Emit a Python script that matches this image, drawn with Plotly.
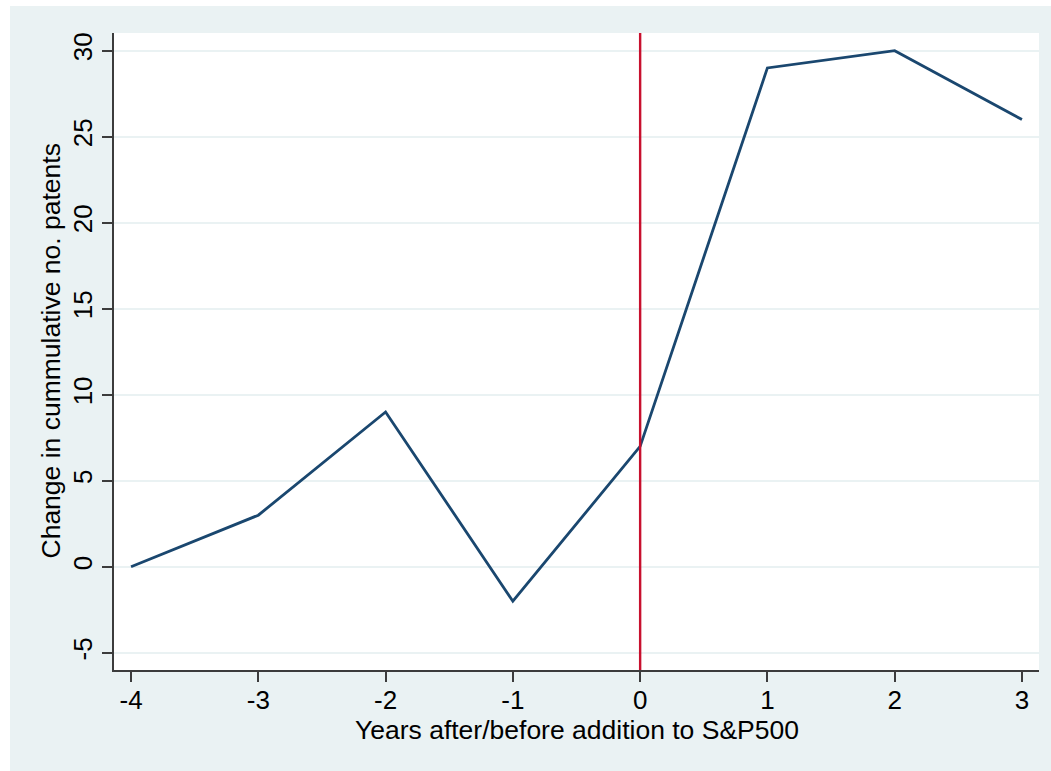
import plotly.graph_objects as go

# Years relative to index addition and change in cumulative patent count
years = [-4, -3, -2, -1, 0, 1, 2, 3]
patent_change = [0, 3, 9, -2, 7, 29, 30, 26]
y_ticks = [-5, 0, 5, 10, 15, 20, 25, 30]
event_year = 0

BG = "#eaf2f3"
AXIS = "#3c3c3c"
FONT = "Liberation Sans, Arial, sans-serif"

# plot-area geometry in pixels
W, H = 1051, 771
L, R, T, B = 114, 12, 33, 101
PW, PH = W - L - R, H - T - B

fig = go.Figure()
fig.add_trace(go.Scatter(
    x=years, y=patent_change, mode="lines",
    line=dict(color="#1a476f", width=2.8),
    showlegend=False, hoverinfo="skip",
))

# event line at addition year
fig.add_shape(type="line", xref="x", yref="paper",
              x0=event_year, x1=event_year, y0=0, y1=1,
              line=dict(color="#c8102e", width=2.4), layer="above")

# white strips along the left and top edges of the page
fig.add_shape(type="rect", xref="paper", yref="paper",
              x0=-L / PW, x1=-(L - 10) / PW, y0=-0.2, y1=1.1,
              fillcolor="white", line_width=0, layer="above")
fig.add_shape(type="rect", xref="paper", yref="paper",
              x0=-0.2, x1=1.1, y0=1 + (T - 6) / PH, y1=1 + (T + 10) / PH,
              fillcolor="white", line_width=0, layer="above")

# axis titles
fig.add_annotation(text="Years after/before addition to S&P500",
                   xref="paper", yref="paper", x=0.5, y=-(730 - (T + PH)) / PH,
                   xanchor="center", yanchor="middle", showarrow=False,
                   font=dict(size=26.5, family=FONT, color="black"))
fig.add_annotation(text="Change in cummulative no. patents",
                   xref="paper", yref="paper", x=-(L - 50) / PW, y=0.5,
                   xanchor="center", yanchor="middle", textangle=-90,
                   showarrow=False,
                   font=dict(size=26.5, family=FONT, color="black"))

fig.update_layout(
    width=W, height=H,
    margin=dict(l=L, r=R, t=T, b=B),
    paper_bgcolor=BG, plot_bgcolor="white",
    font=dict(family=FONT, color="black"),
    xaxis=dict(
        range=[-4.134, 3.134], tickvals=years, ticktext=[str(v) for v in years],
        showgrid=False, zeroline=False,
        showline=True, linecolor=AXIS, linewidth=1.5,
        ticks="outside", ticklen=10, tickwidth=1.5, tickcolor=AXIS,
        tickfont=dict(size=26, family=FONT, color="black"),
        ticklabelstandoff=-4,
    ),
    yaxis=dict(
        range=[-6.0, 31.03], tickvals=y_ticks, ticktext=[str(v) for v in y_ticks],
        showgrid=True, gridcolor=BG, gridwidth=2, zeroline=False,
        showline=True, linecolor=AXIS, linewidth=1.5,
        ticks="outside", ticklen=10, tickwidth=1.5, tickcolor=AXIS,
        tickangle=-90,
        tickfont=dict(size=26, family=FONT, color="black"),
    ),
)

fig.write_html("out.html")
